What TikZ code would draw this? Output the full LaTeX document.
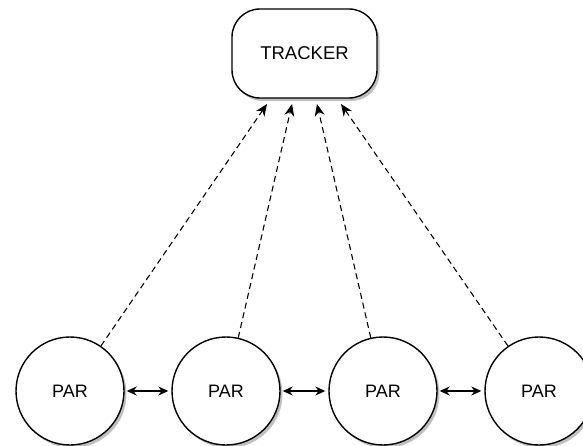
\documentclass[tikz,border=0pt]{standalone}
\usepackage{fontspec}
\setmainfont{Liberation Sans}
\usetikzlibrary{arrows.meta,shadows}
\begin{document}
\begin{tikzpicture}[x=1pt,y=-1pt,
  shade/.style={drop shadow={shadow xshift=2.5pt,shadow yshift=-3pt,opacity=0.45,fill=black!55}},
  trackerbox/.style={draw,line width=1.4pt,fill=white,rounded corners=28pt,minimum width=145pt,minimum height=89pt,inner sep=0pt,font=\fontsize{18.5}{21}\selectfont,shade},
  peer/.style={draw,circle,line width=1.4pt,fill=white,minimum size=108pt,inner sep=0pt,font=\fontsize{18}{21}\selectfont,shade},
  uplink/.style={dashed,dash pattern=on 6pt off 4pt,line width=1.1pt,-{Stealth[length=12pt,width=10pt]}},
  peerlink/.style={line width=1.4pt,{Stealth[length=10pt,width=9pt]}-{Stealth[length=10pt,width=9pt]},shorten <=2pt,shorten >=3pt}]
\useasboundingbox (0,0) rectangle (583,446);
\node[trackerbox] (T) at (304.5,53.5) {TRACKER};
\node[peer] (p1) at (70,391) {PAR};
\node[peer] (p2) at (226,391) {PAR};
\node[peer] (p3) at (383,391) {PAR};
\node[peer] (p4) at (539,391) {PAR};
\coordinate (t1) at (267,104);
\coordinate (t2) at (292,104);
\coordinate (t3) at (317,104);
\coordinate (t4) at (341,104);
\draw[uplink] (p1) -- (t1);
\draw[uplink] (p2) -- (t2);
\draw[uplink] (p3) -- (t3);
\draw[uplink] (p4) -- (t4);
\draw[peerlink] (p1) -- (p2);
\draw[peerlink] (p2) -- (p3);
\draw[peerlink] (p3) -- (p4);
\end{tikzpicture}
\end{document}
